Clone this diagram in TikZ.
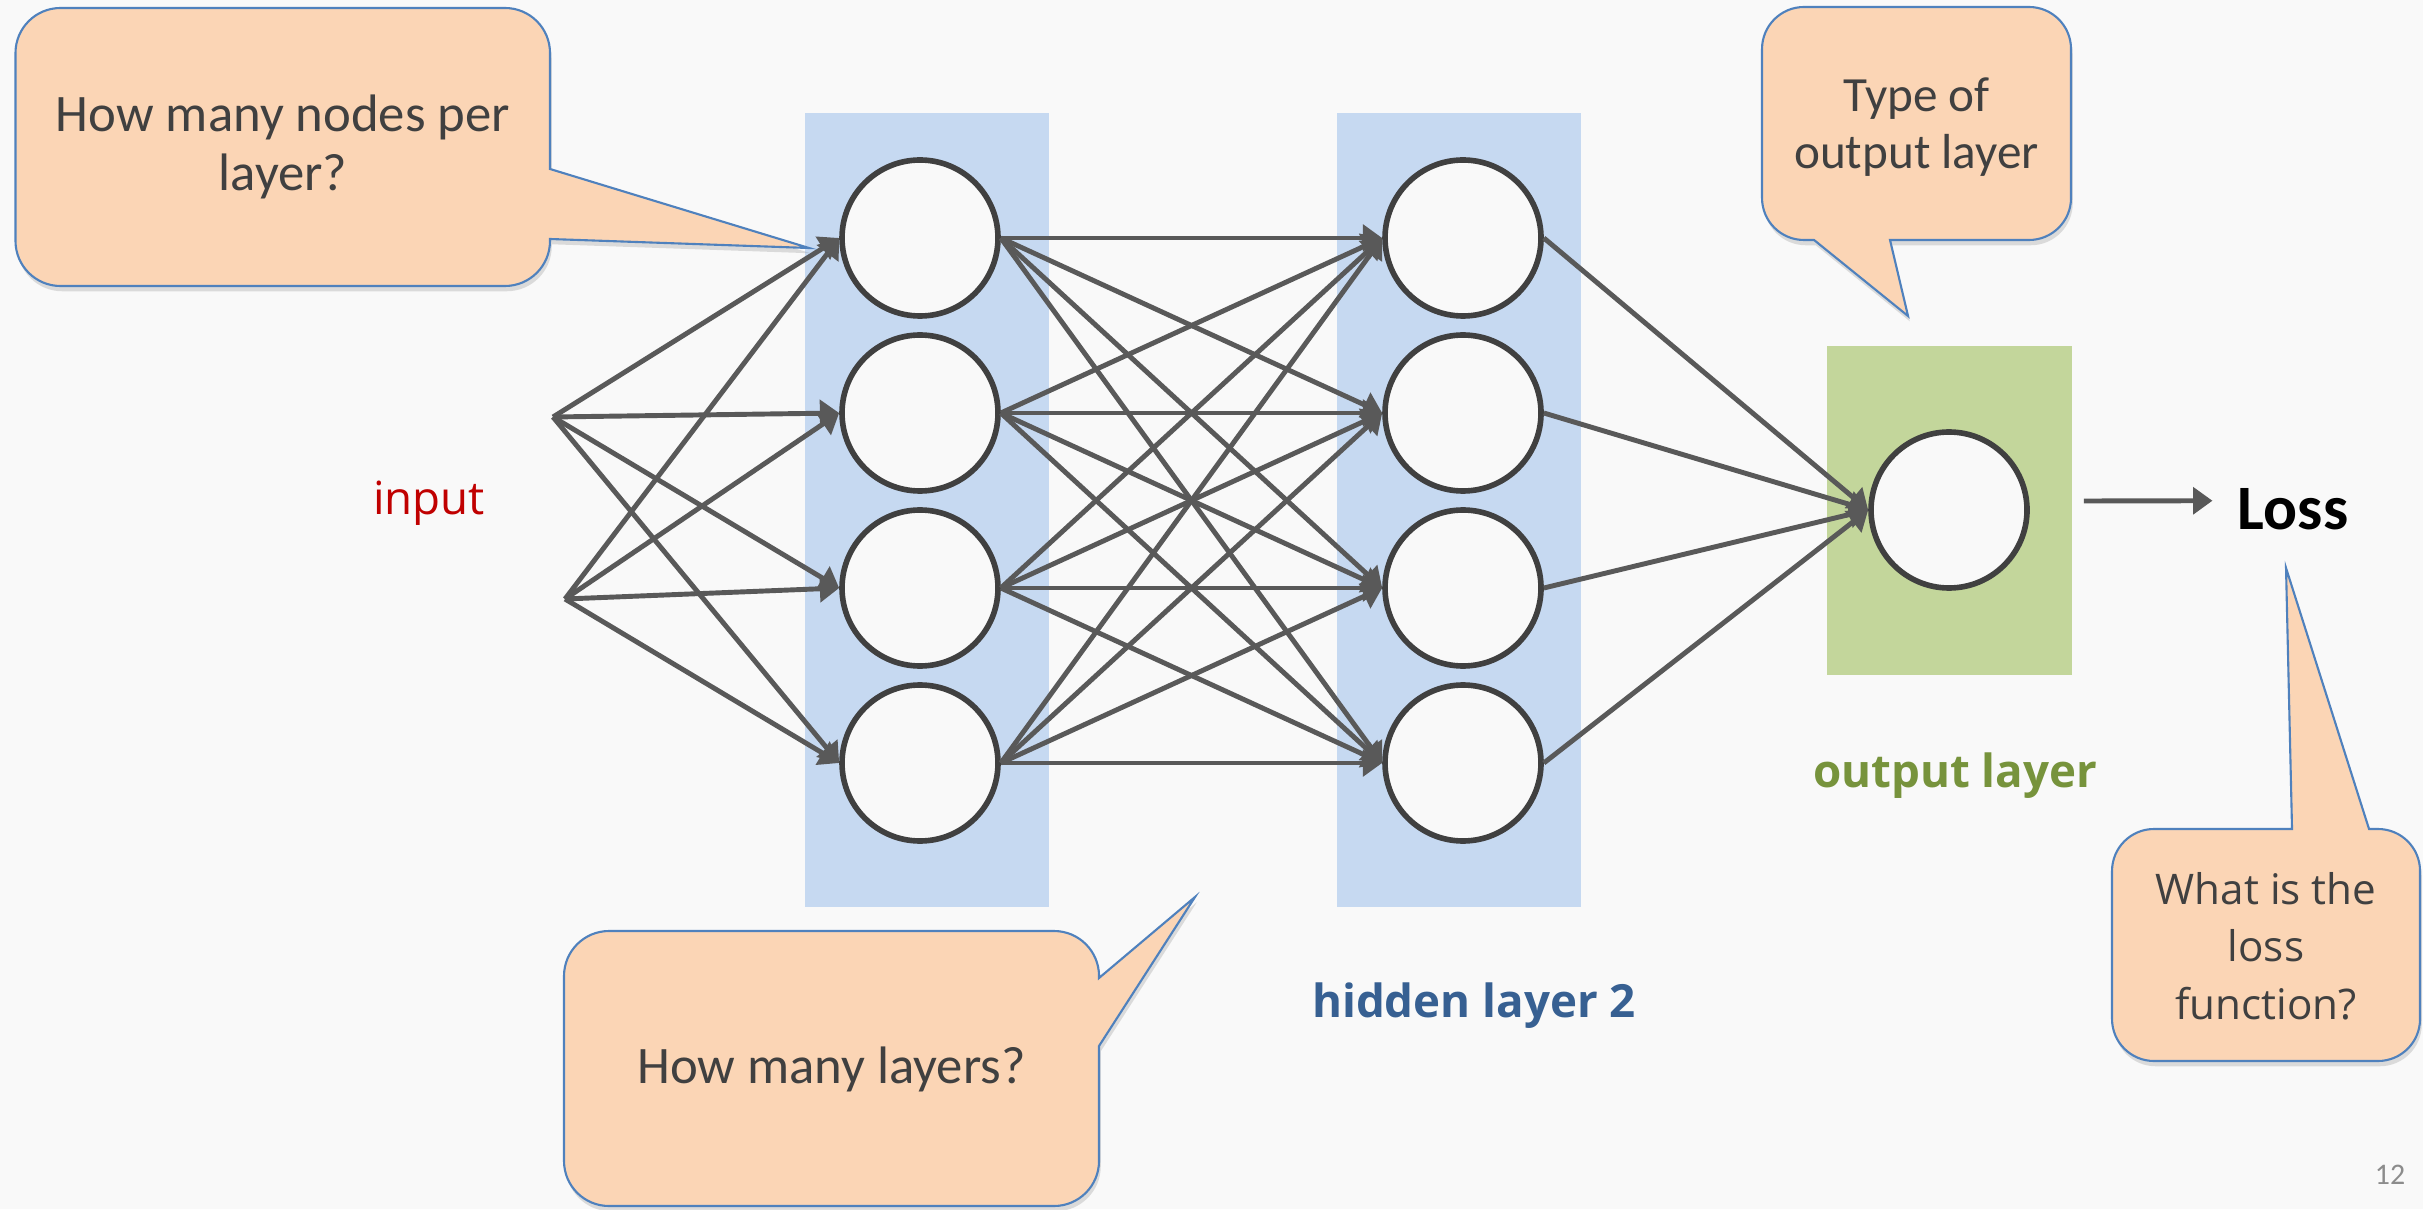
\documentclass[tikz,border=0pt]{standalone}
\usepackage{fontspec}
\setmainfont{Carlito}
\newfontfamily\labelfont{Open Sans}
\usetikzlibrary{arrows.meta,shadows}
\definecolor{bgcol}{HTML}{F9F9F9}
\definecolor{bandblue}{HTML}{C6D9F1}
\definecolor{bandgreen}{HTML}{C3D69B}
\definecolor{edgecol}{HTML}{595959}
\definecolor{ringcol}{HTML}{404040}
\definecolor{peach}{HTML}{FBD5B5}
\definecolor{bubbleline}{HTML}{4F81BD}
\definecolor{inred}{HTML}{C00000}
\definecolor{outgreen}{HTML}{77933C}
\definecolor{hidblue}{HTML}{376092}
\definecolor{pagegray}{HTML}{8C8C8C}
\begin{document}
\begin{tikzpicture}[>={Triangle[length=5.5pt,width=7.5pt]},
    neuron/.style={circle, draw=ringcol, line width=1.6pt, fill=bgcol, minimum size=1.56cm, inner sep=0pt},
    wire/.style={->, draw=edgecol, line width=1.4pt},
    bubble/.style={fill=peach, draw=bubbleline, line width=.6pt,
        drop shadow={shadow xshift=.5pt, shadow yshift=-1.5pt, opacity=.25}},
    say/.style={text=ringcol, align=center}]
    \useasboundingbox (0,0) rectangle (24.23,12.09);
    \fill[bgcol] (0,0) rectangle (24.23,12.09);
    % layer bands
    \fill[bandblue] (8.05,3.02) rectangle (10.49,10.96);
    \fill[bandblue] (13.37,3.02) rectangle (15.81,10.96);
    \fill[bandgreen] (18.27,5.34) rectangle (20.72,8.63);
    % neurons
    \foreach \i/\y in {1/9.71,2/7.96,3/6.21,4/4.46}{
        \node[neuron] (a\i) at (9.20,\y) {};
        \node[neuron] (b\i) at (14.63,\y) {};
    }
    \node[neuron] (out) at (19.49,6.99) {};
    \coordinate (in1) at (5.53,7.92);
    \coordinate (in2) at (5.65,6.10);
    % connections
    \foreach \i in {1,...,4}{
        \draw[wire] (in1) -- (a\i.west);
        \draw[wire] (in2) -- (a\i.west);
        \foreach \j in {1,...,4}
            \draw[wire] (a\i.east) -- (b\j.west);
        \draw[wire] (b\i.east) -- (out.west);
    }
    % labels
    \node[text=inred, font=\labelfont\fontsize{13}{15}\selectfont, anchor=base] (inlbl) at (4.29,6.94) {input};
    \node[text=outgreen, font=\labelfont\bfseries\fontsize{13}{15}\selectfont, anchor=base] (outlbl) at (19.55,4.22) {output layer};
    \node[text=hidblue, font=\labelfont\bfseries\fontsize{13}{15}\selectfont, anchor=base] (hidlbl) at (14.74,1.92) {hidden layer 2};
    \node[font=\bfseries\fontsize{18}{20}\selectfont, anchor=base] (loss) at (22.93,6.79) {Loss};
    \draw[wire] ([shift={(.54,.09)}]out.east) -- ([shift={(-.13,.09)}]loss.west);
    \node[text=pagegray, font=\fontsize{8.5}{10}\selectfont, anchor=base] (pgnum) at (23.90,0.25) {12};
    % callouts
    \draw[bubble] (5.50,10.40) -- (8.09,9.61) -- (5.50,9.70) -- (5.50,9.68)
        arc[start angle=0,end angle=-90,radius=.45] -- (0.605,9.23)
        arc[start angle=270,end angle=180,radius=.45] -- (0.155,11.56)
        arc[start angle=180,end angle=90,radius=.45] -- (5.05,12.01)
        arc[start angle=90,end angle=0,radius=.45] -- cycle;
    \node[say, font=\fontsize{15}{17}\selectfont] (q1) at (2.83,10.62) {How many nodes per\\layer?};
    \draw[bubble] (18.90,9.69) -- (19.08,8.93) -- (18.14,9.69) -- (18.04,9.69)
        arc[start angle=270,end angle=180,radius=.42] -- (17.62,11.60)
        arc[start angle=180,end angle=90,radius=.42] -- (20.29,12.02)
        arc[start angle=90,end angle=0,radius=.42] -- (20.71,10.11)
        arc[start angle=0,end angle=-90,radius=.42] -- cycle;
    \node[say, font=\fontsize{14}{16.3}\selectfont] (q2) at (19.165,10.82) {Type of\\output layer};
    \draw[bubble] (22.92,3.80) -- (22.86,6.41) -- (23.69,3.80) -- (23.78,3.80)
        arc[start angle=90,end angle=0,radius=.42] -- (24.20,1.90)
        arc[start angle=0,end angle=-90,radius=.42] -- (21.54,1.48)
        arc[start angle=270,end angle=180,radius=.42] -- (21.12,3.38)
        arc[start angle=180,end angle=90,radius=.42] -- cycle;
    \node[say, font=\labelfont\fontsize{12}{16.3}\selectfont] (q3) at (22.66,2.63) {What is the\\loss\\function?};
    \draw[bubble] (10.99,1.63) -- (11.95,3.12) -- (10.99,2.31) -- (10.99,2.33)
        arc[start angle=0,end angle=90,radius=.45] -- (6.09,2.78)
        arc[start angle=90,end angle=180,radius=.45] -- (5.64,0.48)
        arc[start angle=180,end angle=270,radius=.45] -- (10.54,0.03)
        arc[start angle=270,end angle=360,radius=.45] -- cycle;
    \node[say, font=\fontsize{15}{17}\selectfont] (q4) at (8.315,1.40) {How many layers?};
\end{tikzpicture}
\end{document}
